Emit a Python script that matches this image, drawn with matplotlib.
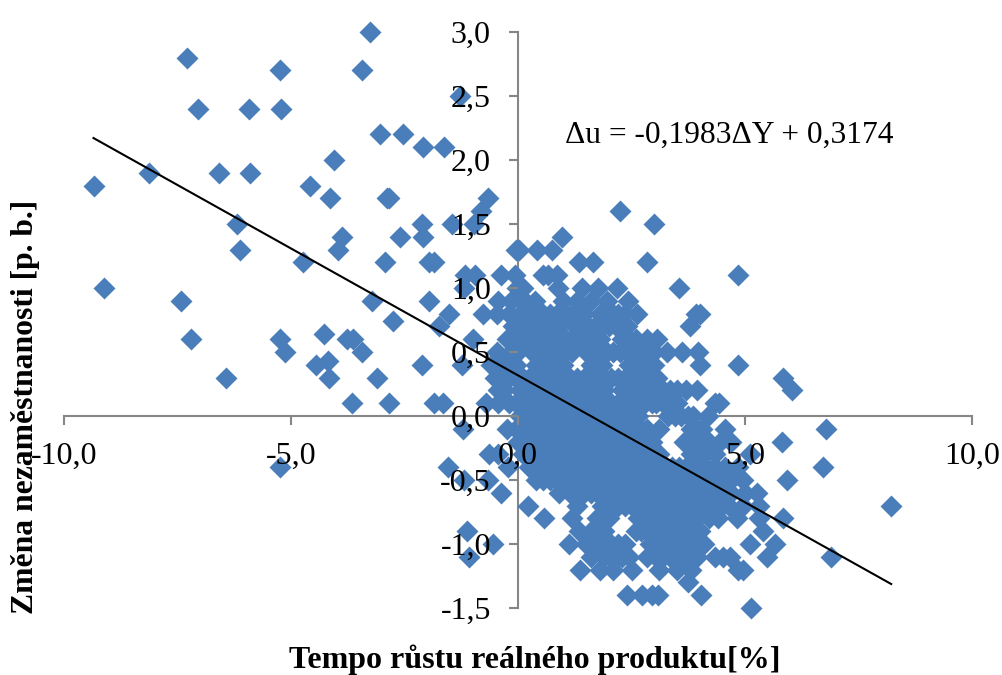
import matplotlib
matplotlib.use("Agg")
import matplotlib.pyplot as plt
import numpy as np

plt.rcParams['font.family'] = ['Liberation Serif', 'DejaVu Serif']

slope = -0.1983
intercept = 0.3174
trend_range = [-9.35, 8.22]
equation = "\u0394u = -0,1983\u0394Y + 0,3174"
x_title = "Tempo růstu reálného produktu[%]"
y_title = "Změna nezaměstnanosti [p. b.]"
x_ticks = [-10, -5, 0, 5, 10]
x_tick_labels = ["-10,0", "-5,0", "0,0", "5,0", "10,0"]
y_ticks = [-1.5, -1, -0.5, 0, 0.5, 1, 1.5, 2, 2.5, 3]
y_tick_labels = ["-1,5", "-1,0", "-0,5", "0,0", "0,5", "1,0", "1,5", "2,0", "2,5", "3,0"]

growth_by_change = {
    3.0: [-3.26],
    2.8: [-7.28],
    2.7: [-5.25, -3.44],
    2.5: [-1.28],
    2.4: [-7.05, -5.93, -5.21],
    2.2: [-3.05, -2.54],
    2.1: [-2.09, -1.64],
    2.0: [-4.06],
    1.9: [-8.13, -6.59, -5.90],
    1.8: [-9.35, -4.58],
    1.7: [-4.13, -2.89, -2.84, -0.65],
    1.6: [-0.82, 2.25],
    1.5: [-6.18, -2.12, -1.46, -0.98, 2.99],
    1.4: [-3.88, -2.61, -2.10, 0.98],
    1.3: [-6.12, -3.97, -0.05, 0.02, 0.42, 0.74],
    1.2: [-4.73, -2.93, -1.97, -1.84, 1.34, 1.65, 2.85],
    1.1: [-1.17, -0.95, -0.37, -0.07, 0.55, 0.65, 0.86, 4.85],
    1.0: [-9.11, -1.20, -0.03, 0.1, 0.88, 1.41, 1.76, 2.18, 3.55],
    0.9: [-7.42, -3.22, -1.96, -0.43, -0.15, 0.15, 0.37, 1.0, 1.30, 1.6, 1.96, 2.42],
    0.8: [-1.52, -0.77, -0.47, -0.2, 0.05, 0.3, 0.55, 0.85, 1.2, 1.45, 1.8, 2.1, 2.35, 2.62, 3.92, 4.0],
    0.7: [-1.74, -0.1, 0.15, 0.45, 0.75, 1.25, 1.55, 1.85, 2.15, 2.4, 3.79],
    0.6: [-7.2, -5.24, -3.77, -3.63, -0.99, -0.25, 0.0, 0.3, 0.6, 0.9, 1.2, 1.5, 1.8, 2.3, 2.6, 2.85, 3.06],
    0.5: [-5.13, -3.44, -0.47, -0.15, 0.45, 0.75, 1.05, 1.65, 1.95, 2.25, 2.55, 2.85, 3.28, 3.61, 3.96],
    0.4: [-4.45, -2.12, -1.23, -0.6, -0.3, -0.05, 0.4, 0.7, 1.0, 1.6, 1.85, 2.45, 2.7, 3.0, 4.0, 4.84],
    0.3: [-6.43, -4.16, -3.1, -0.5, -0.2, 0.1, 0.4, 0.7, 1.0, 1.3, 1.6, 1.9, 2.2, 2.5, 2.8, 3.06, 5.83],
    0.2: [-0.45, 0.25, 0.55, 0.85, 1.15, 1.45, 1.75, 2.3, 2.6, 2.9, 3.2, 3.5, 3.7, 3.94, 6.04],
    0.1: [-3.66, -2.85, -1.85, -1.66, -0.7, -0.43, -0.2, 0.1, 0.4, 0.7, 1.0, 1.3, 1.6, 1.9, 2.2, 2.5, 2.8, 3.05, 3.35, 4.34, 4.43],
    0.0: [0.05, 0.25, 0.55, 0.85, 1.15, 1.45, 1.75, 2.05, 2.35, 2.65, 3.3, 3.6, 3.85, 4.19],
    -0.1: [-1.22, -0.25, -0.05, 0.1, 0.4, 0.7, 1.0, 1.3, 1.6, 1.9, 2.2, 2.5, 2.85, 3.1, 3.8, 4.05, 4.56, 6.78],
    -0.2: [0.0, 0.25, 0.55, 0.85, 1.15, 1.45, 1.75, 2.05, 2.35, 2.65, 2.95, 3.65, 3.95, 4.2, 4.45, 4.7, 5.81],
    -0.3: [-0.64, -0.43, 0.1, 0.4, 0.7, 1.0, 1.3, 1.6, 1.9, 2.2, 2.5, 2.8, 3.1, 3.8, 4.1, 4.35, 5.11],
    -0.4: [-5.24, -1.55, -0.21, 0.25, 0.55, 0.85, 1.15, 1.45, 1.75, 2.05, 2.35, 2.65, 2.95, 3.25, 3.55, 3.85, 4.15, 4.55, 4.85, 6.72],
    -0.5: [-1.2, -0.65, 0.4, 0.7, 1.0, 1.3, 1.6, 1.9, 2.2, 2.5, 2.8, 3.1, 3.4, 3.7, 3.95, 4.15, 4.45, 4.7, 4.96, 5.93],
    -0.6: [-0.37, 0.9, 1.15, 1.45, 1.75, 2.05, 2.35, 2.65, 2.95, 3.25, 3.55, 3.85, 4.15, 4.4, 4.7, 5.0, 5.26],
    -0.7: [0.22, 1.3, 1.85, 2.2, 2.5, 2.8, 3.1, 3.4, 3.7, 4.05, 4.4, 4.65, 4.95, 5.3, 8.22],
    -0.8: [0.57, 1.19, 1.75, 2.0, 2.65, 2.95, 3.25, 3.55, 3.8, 4.2, 4.41, 4.82, 5.3, 5.84],
    -0.9: [-1.13, 1.35, 1.6, 1.9, 2.6, 2.85, 3.1, 3.4, 3.7, 4.0, 5.4],
    -1.0: [-0.56, 1.12, 1.5, 1.75, 2.05, 2.35, 2.9, 3.2, 3.55, 3.85, 4.1, 5.11, 5.67],
    -1.1: [-1.07, 1.6, 1.9, 2.2, 2.45, 2.85, 3.05, 3.35, 3.65, 3.95, 4.34, 4.52, 4.67, 5.49, 6.89],
    -1.2: [1.37, 1.8, 2.1, 2.5, 3.1, 3.5, 3.8, 4.85, 4.96],
    -1.3: [3.74],
    -1.4: [2.4, 2.73, 2.95, 3.08, 4.03],
    -1.5: [5.13],
}
dense_core_by_change = {
    0.8: [0.15, 0.7, 1.05, 1.95, 2.2],
    0.7: [0.0, 0.3, 0.6, 0.9, 1.4, 1.7, 2.0, 2.3],
    0.6: [-0.1, 0.15, 0.45, 0.75, 1.05, 1.35, 1.65, 2.45],
    0.5: [0.0, 0.3, 0.6, 0.9, 1.2, 1.5, 1.8, 2.1, 2.4, 2.7, 3.0],
    0.4: [-0.45, -0.15, 0.55, 0.85, 1.75, 2.55, 2.85],
    0.3: [-0.35, -0.05, 0.25, 0.55, 0.85, 1.15, 1.45, 1.75, 2.05, 2.35, 2.65, 2.95],
    0.2: [-0.3, 0.05, 0.4, 0.7, 1.0, 1.3, 1.6, 1.9, 2.45, 2.75, 3.05, 3.35],
    0.1: [-0.05, 0.25, 0.55, 0.85, 1.15, 1.45, 1.75, 2.05, 2.35, 2.65, 2.95, 3.2, 3.5],
    0.0: [0.4, 0.7, 1.0, 1.3, 1.6, 1.9, 2.2, 2.5, 3.45, 3.75],
    -0.1: [0.25, 0.55, 0.85, 1.15, 1.45, 1.75, 2.05, 2.35, 2.7, 3.95],
    -0.2: [0.1, 0.4, 0.7, 1.0, 1.3, 1.6, 1.9, 2.2, 2.5, 2.8, 3.8, 4.1],
    -0.3: [0.25, 0.55, 0.85, 1.15, 1.45, 1.75, 2.05, 2.35, 2.65, 2.95, 3.95],
    -0.4: [0.4, 0.7, 1.0, 1.3, 1.6, 1.9, 2.2, 2.5, 2.8, 3.1, 3.4, 3.7, 4.0, 4.35],
    -0.5: [0.55, 0.85, 1.15, 1.45, 1.75, 2.05, 2.35, 2.65, 2.95, 3.25, 3.55, 3.85, 4.3],
    -0.6: [1.3, 1.6, 1.9, 2.2, 2.5, 2.8, 3.1, 3.4, 3.7, 4.0, 4.25, 4.55],
    -0.7: [2.05, 2.35, 2.65, 2.95, 3.25, 3.55, 3.85, 4.2, 4.5],
    -0.8: [1.9, 2.8, 3.1, 3.4, 3.7, 3.95],
    -0.9: [1.75, 2.7, 3.0, 3.25, 3.55, 3.85],
    -1.0: [1.9, 2.2, 3.05, 3.4, 3.7],
    -1.1: [2.05, 2.3, 3.2, 3.5, 3.8],
}
offset_growth = [-4.27, -4.18, -2.75]
offset_change = [0.64, 0.43, 0.74]

xs = [x for xr in growth_by_change.values() for x in xr]
ys = [y for y, xr in growth_by_change.items() for _ in xr]
xs += [x for xr in dense_core_by_change.values() for x in xr] + offset_growth
ys += [y for y, xr in dense_core_by_change.items() for _ in xr] + offset_change

fig = plt.figure(figsize=(10.02, 6.75), dpi=100)
W, H = 1002, 675
left, right, top, bottom = 64, 972, 32, 608
ax = fig.add_axes([left / W, 1 - bottom / H, (right - left) / W, (bottom - top) / H])
ax.set_xlim(-10, 10)
ax.set_ylim(-1.5, 3)

ax.plot(xs, ys, ls='none', marker='D', ms=11.3, mfc='#4A7EBB', mec='none', zorder=2, clip_on=False)
tx = np.array(trend_range)
ax.plot(tx, slope * tx + intercept, color='black', lw=1.5, zorder=2.2)

for s in ('top', 'right'):
    ax.spines[s].set_visible(False)
ax.spines['left'].set_position(('data', 0))
ax.spines['bottom'].set_position(('data', 0))
for s in ('left', 'bottom'):
    ax.spines[s].set_color('#868686')
    ax.spines[s].set_linewidth(1.5)
    ax.spines[s].set_zorder(1)

ax.set_axisbelow(False)
ax.set_xticks(x_ticks, x_tick_labels)
ax.set_yticks(y_ticks, y_tick_labels)
ax.tick_params(axis='x', direction='out', length=6.5, width=1.5, color='#868686', labelsize=23, pad=12)
ax.tick_params(axis='y', direction='out', length=6.5, width=1.5, color='#868686', labelsize=23, pad=13)
for t in ax.xaxis.get_major_ticks() + ax.yaxis.get_major_ticks():
    t.tick1line.set_zorder(1)

fig.text(729 / W, 1 - 135 / H, equation, fontsize=22.7, ha='center', va='center')
fig.text(535 / W, 1 - 660 / H, x_title, fontsize=23, fontweight='bold', ha='center', va='center')
fig.text(26 / W, 1 - 407 / H, y_title, fontsize=22.8, fontweight='bold', ha='center', va='center', rotation=90)

fig.savefig('out.png', dpi=100)
